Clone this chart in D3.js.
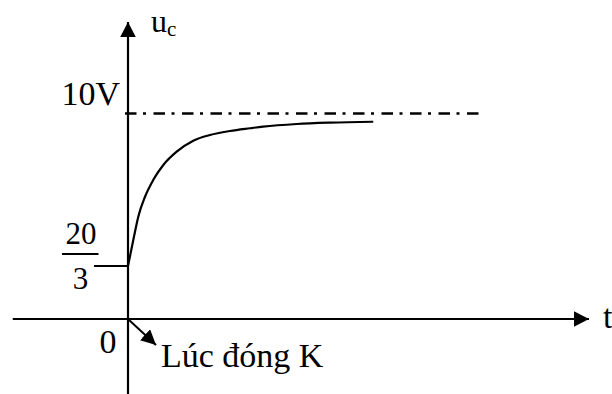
<!DOCTYPE html>
<html>
<head>
<meta charset="utf-8">
<script src="https://cdn.jsdelivr.net/npm/d3@7"></script>
<style>
  html, body { margin: 0; padding: 0; background: #fff; }
</style>
</head>
<body>
<svg id="chart" width="612" height="394"></svg>
<script>
// Capacitor voltage u_c(t) after switch K closes: rises from 20/3 V toward 10 V.
const timeValues = [0, 0.115, 0.223, 0.369, 0.549, 0.766, 1.056, 1.416, 1.779, 2.213, 2.646, 2.928, 3.659, 4.382, 5.32];
const ucValues   = [6.667, 7.235, 7.745, 8.18, 8.55, 8.875, 9.165, 9.405, 9.53, 9.618, 9.677, 9.712, 9.77, 9.80, 9.82];
const initialValue = 20 / 3;
const finalValue = 10;
const finalLabel = "10V";
const initialLabelNum = "20";
const initialLabelDen = "3";
const originLabel = "0";
const eventLabel = "Lúc đóng K";
const xAxisName = "t";
const yAxisName = "u";
const yAxisSub = "c";
const tAxisMin = -2.5;
const tAxisMax = 10;
const asymptoteEnd = 7.65;

const svg = d3.select("#chart");

// Horizontal time scale; the vertical axis sits at t = 0.
const x = d3.scaleLinear().domain([0, tAxisMax]).range([128, 589]);
// Sketch-style voltage scale: the span below 20/3 is compressed.
const y = d3.scaleLinear().domain([0, initialValue, finalValue]).range([319, 266, 113.5]);

const defs = svg.append("defs");
function arrowMarker(id, len, half) {
  defs.append("marker")
    .attr("id", id)
    .attr("viewBox", `0 ${-half} ${len} ${2 * half}`)
    .attr("refX", len).attr("refY", 0)
    .attr("markerUnits", "userSpaceOnUse")
    .attr("markerWidth", len).attr("markerHeight", 2 * half)
    .attr("orient", "auto")
    .append("path")
    .attr("d", `M0,${-half}L${len},0L0,${half}Z`)
    .attr("fill", "#000");
}
arrowMarker("axisHead", 15, 7.8);
arrowMarker("smallHead", 15, 7.5);

// Time axis
svg.append("line")
  .attr("x1", x(tAxisMin)).attr("y1", y(0))
  .attr("x2", x(tAxisMax)).attr("y2", y(0))
  .attr("stroke", "#000").attr("stroke-width", 2.2)
  .attr("marker-end", "url(#axisHead)");

// Voltage axis
svg.append("line")
  .attr("x1", x(0)).attr("y1", 394)
  .attr("x2", x(0)).attr("y2", 22)
  .attr("stroke", "#000").attr("stroke-width", 2.2)
  .attr("marker-end", "url(#axisHead)");

// Steady-state asymptote (dash-dot)
svg.append("line")
  .attr("x1", x(0) - 3).attr("y1", y(finalValue))
  .attr("x2", x(asymptoteEnd)).attr("y2", y(finalValue))
  .attr("stroke", "#000").attr("stroke-width", 2.6)
  .attr("stroke-dasharray", "11.5,6.5,3,7.5");

// Initial level before the switch closes
svg.append("line")
  .attr("x1", 94).attr("y1", y(initialValue))
  .attr("x2", x(0)).attr("y2", y(initialValue))
  .attr("stroke", "#000").attr("stroke-width", 2.2);

// Charging curve
const line = d3.line()
  .x((d, i) => x(timeValues[i]))
  .y(d => y(d))
  .curve(d3.curveMonotoneX);
svg.append("path")
  .attr("d", line(ucValues))
  .attr("fill", "none")
  .attr("stroke", "#000").attr("stroke-width", 2.2);

// Pointer to the switching instant
svg.append("line")
  .attr("x1", x(0)).attr("y1", y(0))
  .attr("x2", x(0) + 28).attr("y2", y(0) + 26)
  .attr("stroke", "#000").attr("stroke-width", 2)
  .attr("marker-end", "url(#smallHead)");

// Labels
function label(xp, yp, size, anchor, txt) {
  return svg.append("text")
    .attr("x", xp).attr("y", yp)
    .style("font-family", '"Liberation Serif"')
    .attr("font-size", size)
    .attr("text-anchor", anchor)
    .attr("fill", "#000")
    .text(txt);
}

label(120, y(finalValue) - 8.5, 34, "end", finalLabel);

label(81, y(initialValue) - 22, 31, "middle", initialLabelNum);
svg.append("line")
  .attr("x1", 62).attr("x2", 98.5)
  .attr("y1", y(initialValue) - 12).attr("y2", y(initialValue) - 12)
  .attr("stroke", "#000").attr("stroke-width", 1.8);
label(80.5, y(initialValue) + 23, 31, "middle", initialLabelDen);

label(108, y(0) + 34, 34, "middle", originLabel);

label(161, 367, 34, "start", eventLabel);

label(603, y(0) + 9, 34, "start", xAxisName);

const uc = label(151, 32, 32, "start", yAxisName);
uc.append("tspan").attr("font-size", 21).attr("dy", 4).text(yAxisSub);
</script>
</body>
</html>
